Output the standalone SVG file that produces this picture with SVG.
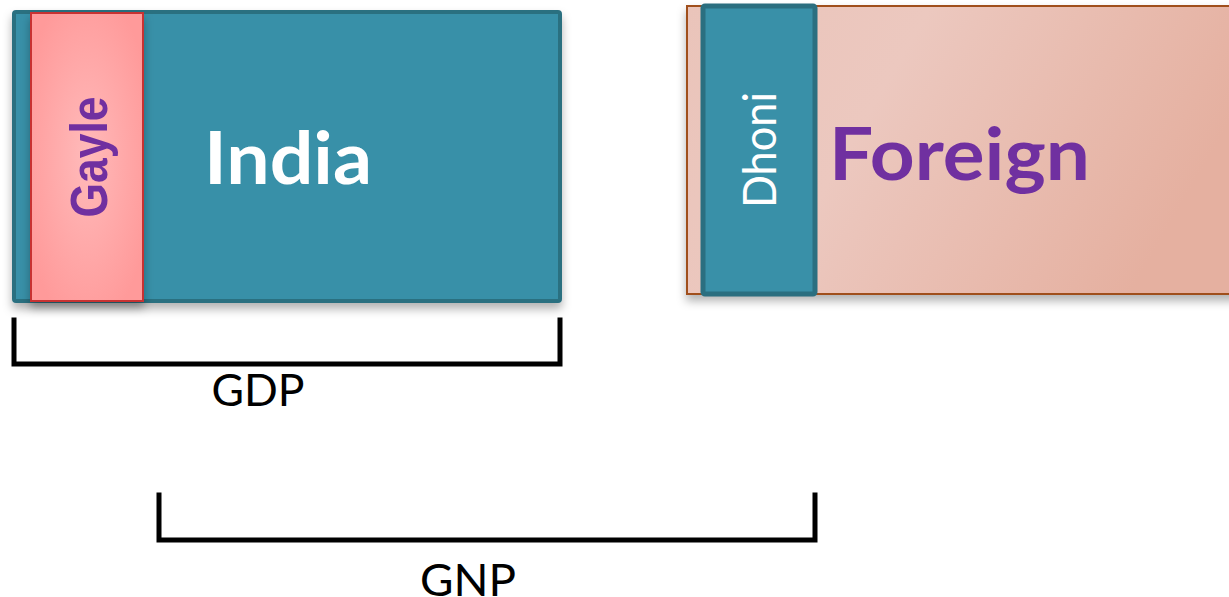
<svg xmlns="http://www.w3.org/2000/svg" width="1229" height="597" viewBox="0 0 1229 597">
<style>
.teal{fill:#3990a8;stroke:#2b6f80;}
.br{fill:none;stroke:#000;stroke-width:5;stroke-linecap:square;}
.lbl{font-family:Lato,"Open Sans",sans-serif;fill:#000;font-size:44px;text-anchor:middle;}
.big{font-family:Lato,"Open Sans",sans-serif;font-weight:bold;font-size:72px;}
</style>
<defs>
<radialGradient id="gPink" cx="0.5" cy="0.5" r="0.6">
<stop offset="0" stop-color="#ffbaba"/>
<stop offset="1" stop-color="#ff9a9a"/>
</radialGradient>
<linearGradient id="gFor" x1="0" y1="0" x2="1" y2="0.3">
<stop offset="0" stop-color="#eac4ba"/>
<stop offset="0.4" stop-color="#ecc8bf"/>
<stop offset="1" stop-color="#e5b0a0"/>
</linearGradient>
<filter id="sh" x="-10%" y="-10%" width="130%" height="130%">
<feDropShadow dx="0" dy="6" stdDeviation="5" flood-color="#000" flood-opacity="0.3"/>
</filter>
</defs>
<g id="india">
<rect class="teal" x="14" y="12" width="546" height="289" rx="2" stroke-width="4" filter="url(#sh)"/>
<text class="big" x="288" y="184" fill="#ffffff" text-anchor="middle" textLength="168" lengthAdjust="spacingAndGlyphs">India</text>
</g>
<g id="gayle">
<rect x="31" y="13" width="112" height="288" fill="url(#gPink)" stroke="#c83232" stroke-width="2" filter="url(#sh)"/>
<text transform="translate(107,157) rotate(-90)" font-family="'Liberation Sans',Arial,sans-serif" font-weight="bold" font-size="52" fill="#7030a0" text-anchor="middle" textLength="121" lengthAdjust="spacingAndGlyphs">Gayle</text>
</g>
<g id="foreign">
<rect x="687" y="6" width="560" height="288" fill="url(#gFor)" stroke="#a0501e" stroke-width="2" filter="url(#sh)"/>
<text class="big" x="829" y="180" fill="#7030a0" textLength="261" lengthAdjust="spacingAndGlyphs">Foreign</text>
</g>
<g id="dhoni">
<rect class="teal" x="703" y="6" width="112" height="288" rx="2" stroke-width="5"/>
<text transform="translate(776,150) rotate(-90)" font-family="Lato,'Open Sans',sans-serif" font-size="46" fill="#ffffff" text-anchor="middle" textLength="116" lengthAdjust="spacingAndGlyphs">Dhoni</text>
</g>
<g id="connectors">
<path class="br" d="M14,320 V364 H560 V320"/>
<path class="br" d="M159,495 V540 H815 V495"/>
</g>
<g id="gdp">
<text class="lbl" x="258" y="406" textLength="93" lengthAdjust="spacingAndGlyphs">GDP</text>
</g>
<g id="gnp">
<text class="lbl" x="468" y="596" textLength="96" lengthAdjust="spacingAndGlyphs">GNP</text>
</g>
</svg>
